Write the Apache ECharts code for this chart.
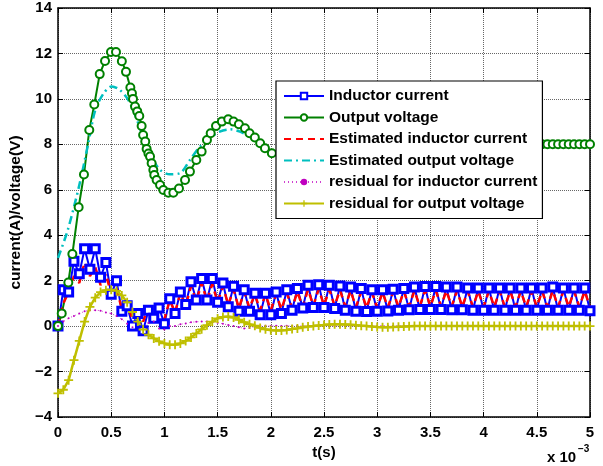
<!DOCTYPE html>
<html>
<head>
<meta charset="utf-8">
<script src="https://cdn.jsdelivr.net/npm/echarts@6/dist/echarts.min.js"></script>
<style>
  html, body { margin: 0; padding: 0; background: #fff; }
  #chart { width: 603px; height: 466px; }
</style>
</head>
<body>
<div id="chart"></div>
<script>
// time axis in ms (plotted with the "x 10^-3" note)
const xTicks = [0, 0.5, 1, 1.5, 2, 2.5, 3, 3.5, 4, 4.5, 5];
const yTicks = [-4, -2, 0, 2, 4, 6, 8, 10, 12, 14];
const seriesNames = [
  "Inductor current",
  "Output voltage",
  "Estimated inductor current",
  "Estimated output voltage",
  "residual for inductor current",
  "residual for output voltage"
];

// sample times for the fixed-step series (0 .. 5 ms, 0.05 ms apart)
const tStep = 0.05;
const tGrid = Array.from({ length: 101 }, (_, i) => +(i * tStep).toFixed(2));

// inductor current (A), one value per tGrid point
const inductorCurrent = [
  0.0, 1.6, 1.5, 2.85, 2.3, 3.4, 2.5, 3.4, 2.15, 2.8,
  1.4, 2.0, 0.65, 0.9, 0.0, 0.55, -0.2, 0.7, 0.35, 0.8,
  0.1, 1.2, 0.55, 1.5, 0.95, 1.95, 1.15, 2.1, 1.15, 2.1,
  1.05, 1.9, 0.85, 1.75, 0.65, 1.6, 0.65, 1.45, 0.5, 1.45,
  0.5, 1.5, 0.55, 1.6, 0.7, 1.65, 0.8, 1.8, 0.82, 1.82,
  0.82, 1.8, 0.78, 1.76, 0.7, 1.72, 0.65, 1.65, 0.64, 1.6,
  0.65, 1.6, 0.66, 1.62, 0.7, 1.66, 0.72, 1.72, 0.73, 1.74,
  0.73, 1.74, 0.73, 1.72, 0.72, 1.72, 0.72, 1.68, 0.7, 1.68,
  0.7, 1.68, 0.7, 1.68, 0.7, 1.68, 0.7, 1.68, 0.7, 1.68,
  0.7, 1.68, 0.7, 1.72, 0.7, 1.68, 0.7, 1.68, 0.7, 1.68,
  0.68
];

// estimated inductor current (A)
const estCurrent = [
  0.0, 1.0, 1.5, 2.2, 1.9, 2.8, 2.2, 2.6, 1.8, 2.3,
  1.4, 1.65, 0.75, 1.0, 0.3, 0.8, 0.2, 0.9, 0.4, 1.0,
  0.3, 1.15, 0.6, 1.45, 0.9, 1.75, 1.1, 1.9, 1.1, 1.85,
  1.05, 1.75, 0.95, 1.6, 0.8, 1.5, 0.8, 1.4, 0.7, 1.4,
  0.7, 1.4, 0.75, 1.45, 0.8, 1.5, 0.85, 1.6, 0.9, 1.62,
  0.92, 1.6, 0.9, 1.58, 0.88, 1.55, 0.85, 1.5, 0.82, 1.48,
  0.82, 1.48, 0.84, 1.5, 0.86, 1.52, 0.88, 1.55, 0.88, 1.56,
  0.88, 1.56, 0.88, 1.55, 0.88, 1.55, 0.86, 1.53, 0.86, 1.53,
  0.86, 1.53, 0.86, 1.53, 0.86, 1.53, 0.86, 1.53, 0.86, 1.53,
  0.86, 1.53, 0.86, 1.55, 0.86, 1.53, 0.86, 1.53, 0.86, 1.53,
  0.85
];

// residual for inductor current
const residCurrent = [
  0.0, 0.2, 0.35, 0.45, 0.55, 0.65, 0.7, 0.7, 0.68, 0.6,
  0.55, 0.45, 0.3, 0.1, -0.05, 0.1, -0.15, 0.15, 0.2, -0.1,
  -0.15, 0.0, 0.0, 0.08, 0.12, 0.17, 0.19, 0.2, 0.2, 0.18,
  0.15, 0.1, 0.05, 0.0, -0.05, -0.1, -0.08, -0.03, 0.0, 0.02,
  0.0, 0.02, 0.0, 0.02, 0.0, 0.02, 0.0, 0.02, 0.0, 0.02,
  0.0, 0.02, 0.0, 0.02, 0.0, 0.02, 0.0, 0.02, 0.0, 0.02,
  0.0, 0.02, 0.0, 0.02, 0.0, 0.02, 0.0, 0.02, 0.0, 0.02,
  0.0, 0.02, 0.0, 0.02, 0.0, 0.02, 0.0, 0.02, 0.0, 0.02,
  0.0, 0.02, 0.0, 0.02, 0.0, 0.02, 0.0, 0.02, 0.0, 0.02,
  0.0, 0.02, 0.0, 0.02, 0.0, 0.02, 0.0, 0.02, 0.0, 0.02,
  0.0
];

// residual for output voltage
const residVoltage = [
  -2.96, -2.8, -2.38, -1.5, -0.65, 0.2, 0.85, 1.25, 1.5, 1.58,
  1.6, 1.55, 1.35, 1.05, 0.62, 0.2, -0.15, -0.38, -0.54, -0.67,
  -0.76, -0.82, -0.82, -0.76, -0.65, -0.5, -0.32, -0.14, 0.04, 0.2,
  0.34, 0.4, 0.42, 0.38, 0.28, 0.17, 0.08, 0.02, -0.08, -0.14,
  -0.18, -0.19, -0.19, -0.17, -0.13, -0.1, -0.05, -0.02, 0.0, 0.03,
  0.05, 0.07, 0.08, 0.08, 0.07, 0.06, 0.04, 0.02, 0.0, -0.02,
  -0.04, -0.05, -0.05, -0.04, -0.03, -0.02, -0.01, 0.0, 0.0, 0.01,
  0.01, 0.01, 0.0, 0.0, 0.0, 0.0, 0.0, 0.0, 0.0, 0.0,
  0.0, 0.0, 0.0, 0.0, 0.0, 0.0, 0.0, 0.0, 0.0, 0.0,
  0.0, 0.0, 0.0, 0.0, 0.0, 0.0, 0.0, 0.0, 0.0, 0.0,
  0.0
];

// output voltage (V), variable-step samples
const voltageT = [
  0, 0.035, 0.097, 0.135, 0.194, 0.244, 0.294, 0.341, 0.392, 0.442,
  0.498, 0.545, 0.6, 0.639, 0.68, 0.695, 0.705, 0.724, 0.745, 0.764,
  0.786, 0.8, 0.82, 0.833, 0.85, 0.865, 0.88, 0.896, 0.905, 0.927,
  0.959, 0.99, 1.037, 1.084, 1.137, 1.194, 1.24, 1.3, 1.35, 1.4,
  1.435, 1.485, 1.54, 1.6, 1.65, 1.7, 1.757, 1.8, 1.85, 1.9,
  1.945, 2.01, 2.1, 2.2, 2.3, 2.4, 2.5, 2.6, 2.7, 2.8,
  2.9, 3.0, 3.2, 3.4, 3.6, 3.8, 4.0, 4.2, 4.4, 4.5,
  4.55, 4.6, 4.65, 4.7, 4.75, 4.8, 4.85, 4.9, 4.95, 5.0
];
const outputVoltage = [
  0, 0.56, 1.92, 3.17, 5.23, 6.67, 8.63, 9.75, 11.09, 11.67,
  12.06, 12.06, 11.66, 11.19, 10.5, 10.25, 10.0, 9.66, 9.45, 9.25,
  8.81, 8.41, 8.12, 7.8, 7.6, 7.46, 7.17, 6.87, 6.65, 6.43,
  6.21, 5.99, 5.87, 5.87, 6.06, 6.43, 6.8, 7.31, 7.68, 8.19,
  8.49, 8.81, 9.0, 9.1, 9.0, 8.88, 8.71, 8.49, 8.3, 8.05,
  7.83, 7.61, 7.55, 7.6, 7.75, 7.95, 8.1, 8.2, 8.2, 8.1,
  8.0, 7.95, 7.92, 7.97, 8.02, 8.02, 8.0, 8.0, 8.0, 8.0,
  8.0, 8.0, 8.0, 8.0, 8.0, 8.0, 8.0, 8.0, 8.0, 8.0
];

// estimated output voltage (V)
const estVoltageT = [
  0, 0.09, 0.197, 0.285, 0.35, 0.43, 0.505, 0.58, 0.66, 0.72,
  0.8, 0.896, 0.96, 1.05, 1.147, 1.24, 1.335, 1.43, 1.52, 1.62,
  1.71, 1.8, 1.93, 2.02, 2.2, 2.4, 2.6, 2.8, 3.0, 3.5,
  4.0, 4.5, 5.0
];
const estVoltage = [
  3.0, 4.2, 6.14, 8.05, 9.5, 10.25, 10.55, 10.4, 9.96, 9.35,
  8.34, 7.31, 6.87, 6.68, 6.73, 7.31, 7.9, 8.27, 8.56, 8.66,
  8.56, 8.34, 7.97, 7.6, 7.6, 7.9, 8.1, 8.1, 8.0, 7.98,
  8.0, 8.0, 8.0
];

const pair = (ts, vs) => ts.map((t, i) => [t, vs[i]]);
const minus = v => (v < 0 ? "\u2212" + Math.abs(v) : String(v));
const plusPath = "path://M4,0H6V4H10V6H6V10H4V6H0V4H4Z";

const FONT = "Liberation Sans, Arial, Helvetica, sans-serif";
const chart = echarts.init(document.getElementById("chart"), null, { renderer: "canvas" });

const tickStyle = { inside: true, length: 5, lineStyle: { color: "#000", width: 1 } };
const axisLine = { onZero: false, lineStyle: { color: "#000", width: 1.5 } };

// legend entries: hide the marker for the plain dashed lines
const legendData = seriesNames.map((n, i) =>
  i === 2 || i === 3 ? { name: n, itemStyle: { opacity: 0 } } : { name: n }
);

chart.setOption({
  animation: false,
  backgroundColor: "#fff",
  grid: { left: 58, right: 13, top: 8, bottom: 49, outerBoundsMode: "none" },
  xAxis: [
    {
      type: "value", min: xTicks[0], max: xTicks[xTicks.length - 1], interval: 0.5,
      name: "t(s)", nameLocation: "middle", nameGap: 22,
      nameTextStyle: { color: "#000", fontSize: 15, fontWeight: "bold", fontFamily: FONT },
      axisLine: axisLine, axisTick: tickStyle,
      splitLine: { show: true, lineStyle: { color: "#666", width: 1, type: "dotted" } },
      axisLabel: { color: "#000", fontSize: 15, fontWeight: "bold", fontFamily: FONT, margin: 8 }
    },
    {
      type: "value", position: "top", min: 0, max: 5, interval: 0.5,
      axisLine: axisLine, axisTick: tickStyle, splitLine: { show: false }, axisLabel: { show: false }
    }
  ],
  yAxis: [
    {
      type: "value", min: yTicks[0], max: yTicks[yTicks.length - 1], interval: 2,
      name: "current(A)/voltage(V)", nameLocation: "middle", nameGap: 30, nameRotate: 90,
      nameTextStyle: { color: "#000", fontSize: 15.5, fontWeight: "bold", fontFamily: FONT },
      axisLine: axisLine, axisTick: tickStyle,
      splitLine: { show: true, lineStyle: { color: "#666", width: 1, type: "dotted" } },
      axisLabel: { color: "#000", fontSize: 15, fontWeight: "bold", fontFamily: FONT, margin: 6, formatter: minus }
    },
    {
      type: "value", position: "right", min: -4, max: 14, interval: 2,
      axisLine: axisLine, axisTick: tickStyle, splitLine: { show: false }, axisLabel: { show: false }
    }
  ],
  legend: {
    orient: "vertical", left: 276, top: 81,
    padding: [7, 5, 7, 7], itemWidth: 40, itemHeight: 8, itemGap: 5.5,
    backgroundColor: "#fff", borderColor: "#000", borderWidth: 1.2,
    selectedMode: false,
    textStyle: { color: "#000", fontSize: 15.5, fontWeight: "bold", fontFamily: FONT },
    data: legendData
  },
  graphic: [
    { type: "text", left: 547, top: 450, style: { text: "x 10", fill: "#000", font: "bold 15px " + FONT } },
    { type: "text", left: 578, top: 444, style: { text: "\u22123", fill: "#000", font: "bold 10px " + FONT } }
  ],
  series: [
    {
      name: seriesNames[0], type: "line", data: pair(tGrid, inductorCurrent),
      symbol: "rect", symbolSize: 8, showSymbol: true,
      lineStyle: { color: "#0000ff", width: 2 },
      itemStyle: { color: "#ffffff", borderColor: "#0000ff", borderWidth: 3 }
    },
    {
      name: seriesNames[1], type: "line", data: pair(voltageT, outputVoltage),
      symbol: "circle", symbolSize: 8,
      lineStyle: { color: "#008000", width: 2 },
      itemStyle: { color: "#ffffff", borderColor: "#008000", borderWidth: 2 }
    },
    {
      name: seriesNames[2], type: "line", data: pair(tGrid, estCurrent),
      symbol: "none",
      lineStyle: { color: "#ff0000", width: 2.5, type: [7, 5] },
      itemStyle: { color: "#ff0000" }
    },
    {
      name: seriesNames[3], type: "line", data: pair(estVoltageT, estVoltage), smooth: 0.3,
      symbol: "none",
      lineStyle: { color: "#00bfbf", width: 2.5, type: [8, 4, 2, 4] },
      itemStyle: { color: "#00bfbf" }
    },
    {
      name: seriesNames[4], type: "line", data: pair(tGrid, residCurrent),
      symbol: "circle", symbolSize: 2,
      lineStyle: { color: "#d040d0", width: 1, type: [1, 3] },
      itemStyle: { color: "#bf00bf" }
    },
    {
      name: seriesNames[5], type: "line", data: pair(tGrid, residVoltage),
      symbol: plusPath, symbolSize: 9,
      lineStyle: { color: "#bfbf00", width: 2.5 },
      itemStyle: { color: "#bfbf00" }
    }
  ]
});
</script>
</body>
</html>
